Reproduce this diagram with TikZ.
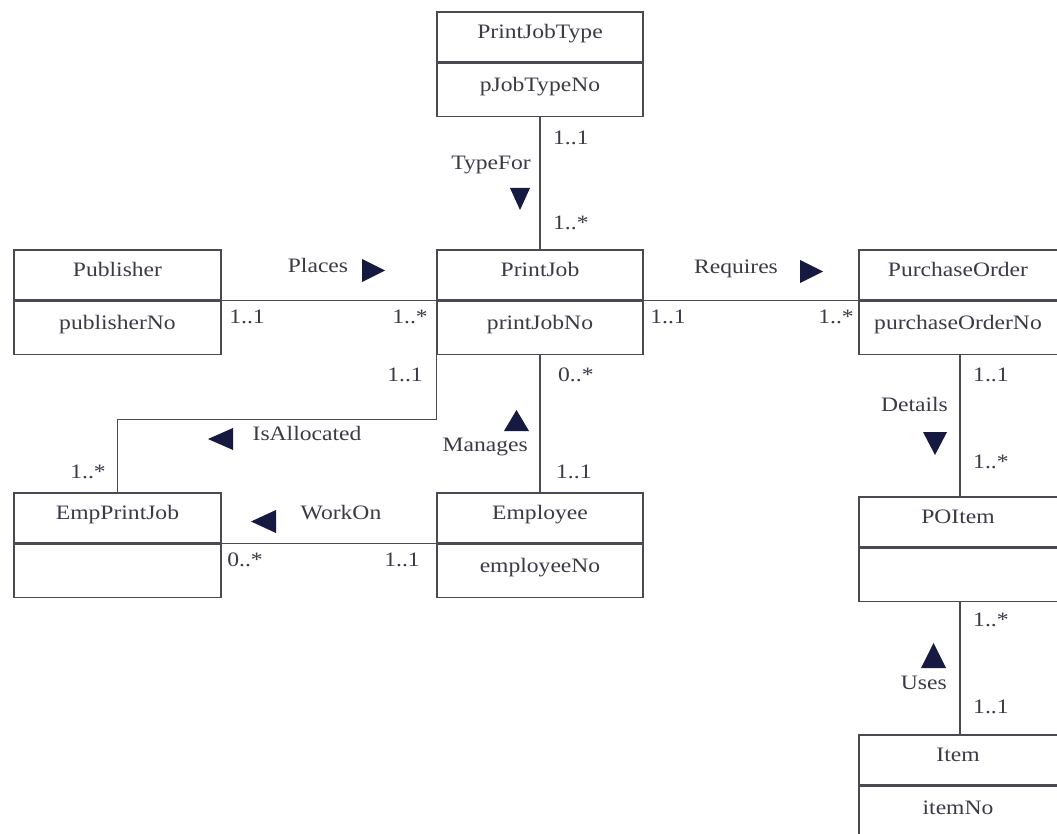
\documentclass[tikz,border=0pt]{standalone}
\usepackage{fontspec}
\setmainfont{Liberation Serif}[FakeStretch=1.15]
\definecolor{linec}{HTML}{4A4A52}
\definecolor{txtc}{HTML}{3A3A48}
\definecolor{tric}{HTML}{161A40}
\newcommand{\dfont}{\fontsize{20.5}{24}\selectfont}
\begin{document}
\begin{tikzpicture}[x=1pt,y=-1pt,
  cls/.style={draw=linec, line width=1.1pt, inner sep=0pt, minimum height=50pt, text=txtc, font=\dfont, text height=0.6em, text depth=0.3em},
  attr/.style={cls, minimum height=53pt, anchor=north},
  wide/.style={minimum width=206pt},
  lbl/.style={inner sep=0pt, text=txtc, font=\dfont, text height=0.6em, text depth=0.3em},
  conn/.style={draw=linec, line width=1.1pt},
  tri/.style={fill=tric}]
\clip (0,0) rectangle (1057,834);
\fill[white] (0,0) rectangle (1057,834);

% classes
\node[cls, wide] (pjt) at (540,37) {PrintJobType};
\node[attr, wide] (pjta) at (pjt.south) {pJobTypeNo};

\node[cls, minimum width=207pt] (pub) at (117.5,275) {Publisher};
\node[attr, minimum width=207pt] (puba) at (pub.south) {publisherNo};

\node[cls, wide] (pj) at (540,275) {PrintJob};
\node[attr, wide] (pja) at (pj.south) {printJobNo};

\node[cls, minimum width=202pt] (po) at (960,275) {\hspace*{-2pt}PurchaseOrder\hspace*{2pt}};
\node[attr, minimum width=202pt] (poa) at (po.south) {\hspace*{-2pt}purchaseOrderNo\hspace*{2pt}};

\node[cls, minimum width=207pt] (epj) at (117.5,518) {EmpPrintJob};
\node[attr, minimum width=207pt] (epja) at (epj.south) {};

\node[cls, wide] (emp) at (540,518) {Employee};
\node[attr, wide] (empa) at (emp.south) {employeeNo};

\node[cls, minimum width=202pt] (poi) at (960,522) {\hspace*{-2pt}POItem\hspace*{2pt}};
\node[attr, minimum width=202pt] (poia) at (poi.south) {};

\node[cls, minimum width=202pt] (itm) at (960,760) {\hspace*{-2pt}Item\hspace*{2pt}};
\node[attr, minimum width=202pt] (itma) at (itm.south) {\hspace*{-2pt}itemNo\hspace*{2pt}};

% connectors
\draw[conn] (pjta.south) -- (pj.north);
\draw[conn] (pub.south east) -- (pj.south west);
\draw[conn] (pj.south east) -- (po.south west);
\draw[conn] (poa.south) -- (poi.north);
\draw[conn] (poia.south) -- (itm.north);
\draw[conn] (pja.south) -- (emp.north);
\draw[conn] (epj.south east) -- (emp.south west);
\draw[conn] (pja.south west) -- ++(0,65) -| (epj.north);

% TypeFor
\node[lbl, anchor=west] (t1) at (553,143) {1..1};
\node[lbl, anchor=east] (t2) at (531,168) {TypeFor};
\fill[tri] (510,188) -- (530,188) -- (520,210) -- cycle;
\node[lbl, anchor=west] (t3) at (553,228) {1..*};

% Places
\node[lbl] (p1) at (318,271) {Places};
\fill[tri] (362,259) -- (362,282) -- (385,270.5) -- cycle;
\node[lbl] (p2) at (247,322) {1..1};
\node[lbl] (p3) at (410,322) {1..*};

% Requires
\node[lbl] (r1) at (736,272) {Requires};
\fill[tri] (800,260) -- (800,283) -- (823,271.5) -- cycle;
\node[lbl] (r2) at (668,322) {1..1};
\node[lbl] (r3) at (836,322) {1..*};

% Details
\node[lbl, anchor=west] (d1) at (973,380) {1..1};
\node[lbl, anchor=east] (d2) at (948,410) {Details};
\fill[tri] (923,432) -- (947,432) -- (935,455) -- cycle;
\node[lbl, anchor=west] (d3) at (973,467) {1..*};

% Uses
\node[lbl, anchor=west] (u1) at (973,625) {1..*};
\fill[tri] (921,668) -- (946,668) -- (933.5,643) -- cycle;
\node[lbl, anchor=east] (u2) at (947,688) {Uses};
\node[lbl, anchor=west] (u3) at (973,712) {1..1};

% IsAllocated
\node[lbl] (a1) at (405,380) {1..1};
\fill[tri] (233,428) -- (233,450) -- (208,439) -- cycle;
\node[lbl] (a2) at (307,439) {IsAllocated};
\node[lbl] (a3) at (88,477) {1..*};

% Manages
\node[lbl, anchor=west] (m1) at (558,380) {0..*};
\fill[tri] (504,431) -- (529,431) -- (516.5,410) -- cycle;
\node[lbl, anchor=east] (m2) at (528,450) {Manages};
\node[lbl, anchor=west] (m3) at (556,477) {1..1};

% WorkOn
\fill[tri] (276,510) -- (276,533) -- (251,521.5) -- cycle;
\node[lbl] (w1) at (341,518) {WorkOn};
\node[lbl] (w2) at (245,565) {0..*};
\node[lbl] (w3) at (402,565) {1..1};
\end{tikzpicture}
\end{document}
